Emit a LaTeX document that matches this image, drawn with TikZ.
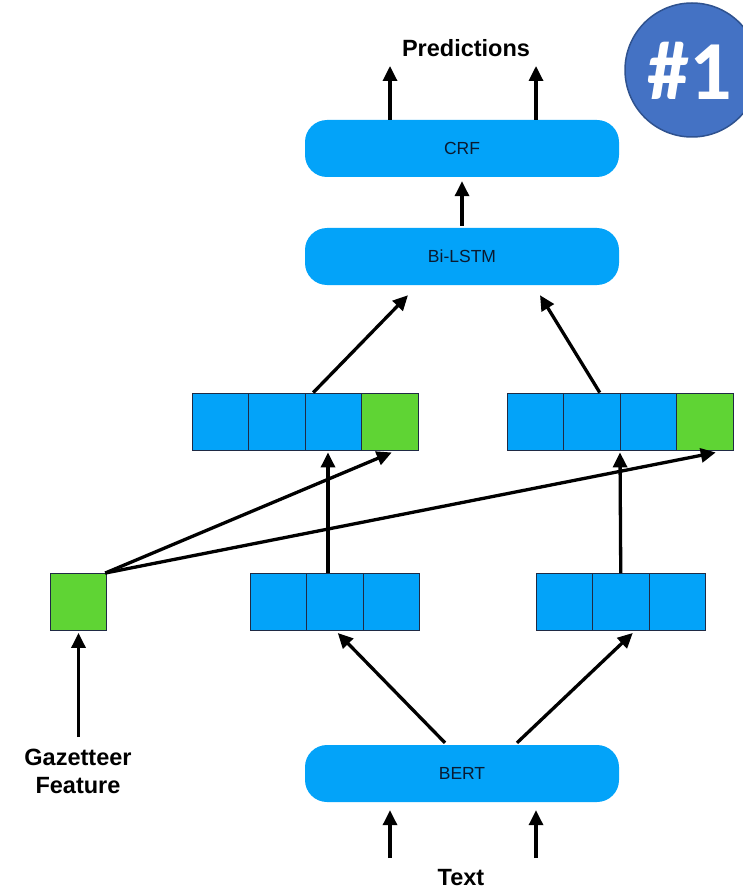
\documentclass[tikz,border=0pt]{standalone}
\usepackage{fontspec}
\setmainfont{Liberation Sans}
\newfontfamily\badgefont{Carlito}
\usetikzlibrary{arrows.meta,calc}
\definecolor{boxblue}{HTML}{03A3F9}
\definecolor{cellgreen}{HTML}{5FD434}
\definecolor{badgeblue}{HTML}{4472C4}
\definecolor{badgeedge}{HTML}{2F528F}
\definecolor{cellline}{HTML}{1F2A44}
\definecolor{labeltext}{HTML}{0A1A30}
\begin{document}
\begin{tikzpicture}[x=1pt,y=-1pt,
  layer/.style={draw=none, fill=boxblue, rounded corners=22pt, minimum width=314pt, minimum height=57pt, inner sep=0pt, font=\fontsize{17.5}{20}\selectfont, text=labeltext},
  cell/.style={draw=cellline, line width=0.9pt, fill=boxblue, minimum width=56.5pt, minimum height=57pt, inner sep=0pt},
  gcell/.style={cell, fill=cellgreen},
  arr/.style={line width=3.3pt, -{Triangle[length=15pt,width=14pt]}},
  lbl/.style={font=\bfseries\fontsize{23.5}{27}\selectfont, inner sep=0pt, anchor=base}]
\useasboundingbox (0,0) rectangle (743,893);
\clip (0,0) rectangle (743,893);

% badge
\node[circle, fill=badgeblue, draw=badgeedge, line width=1.5pt, minimum size=134pt, inner sep=0pt] (badge) at (692,70) {};
\node[text=white, font=\badgefont\bfseries\fontsize{84}{84}\selectfont, inner sep=0pt, anchor=base] (badgetext) at (690,100) {\#1};

% layers
\node[layer] (crf) at (462,148.5) {CRF};
\node[layer] (lstm) at (462,256.5) {Bi-LSTM};
\node[layer] (bert) at (462,773.5) {BERT};

% upper concatenated rows
\node[cell] (ul1) at (220.25,421.5) {};
\node[cell] (ul2) at (276.75,421.5) {};
\node[cell] (ul3) at (333.25,421.5) {};
\node[gcell] (ul4) at (389.75,421.5) {};
\node[cell] (ur1) at (535.25,421.5) {};
\node[cell] (ur2) at (591.75,421.5) {};
\node[cell] (ur3) at (648.25,421.5) {};
\node[gcell] (ur4) at (704.75,421.5) {};

% lower rows
\node[cell] (ll1) at (278.25,602) {};
\node[cell] (ll2) at (334.75,602) {};
\node[cell] (ll3) at (391.25,602) {};
\node[cell] (lr1) at (564.25,602) {};
\node[cell] (lr2) at (620.75,602) {};
\node[cell] (lr3) at (677.25,602) {};

% gazetteer cell
\node[gcell] (gaz) at (78.5,602) {};

% labels
\node[lbl] (pred) at (466,57) {Predictions};
\node[lbl] (gazlbl) at (78,765) {Gazetteer};
\node[lbl] (gazlbl2) at (78,793) {Feature};
\node[lbl] (text) at (461,885) {Text};

% prediction arrows
\coordinate (pa) at (390,66);
\coordinate (pb) at (536,66);
\draw[arr] (pa |- crf.north) -- (pa);
\draw[arr] (pb |- crf.north) -- (pb);

% lstm -> crf
\draw[arr, shorten <=2pt, shorten >=4pt] (lstm.north) -- (crf.south);

% upper rows -> lstm
\draw[arr] ($(ul3.north)+(-20,0)$) -- ($(lstm.south)+(-54,10)$);
\draw[arr] ($(ur2.north)+(8,0)$) -- ($(lstm.south)+(78,10)$);

% lower rows -> upper rows
\draw[arr] ($(ll2.north)+(-6.75,0)$) -- ($(ul3.south)+(-5.25,2)$);
\draw[arr] (lr2.north) -- ($(ur2.south)+(28.25,2)$);

% gazetteer -> green cells
\draw[arr] ($(gaz.north east)+(-2,0)$) -- ($(ul4.south)+(2,2)$);
\draw[arr] ($(gaz.north east)+(-2,0)$) -- ($(ur4.south)+(11,2)$);

% gazetteer feature -> gazetteer cell
\draw[arr] (78.5,737) -- ($(gaz.south)+(0,2)$);

% bert -> lower rows
\draw[arr] ($(bert.north)+(-17,-2)$) -- ($(ll2.south)+(3,2)$);
\draw[arr] ($(bert.north)+(55,-2)$) -- ($(lr2.south)+(12,2)$);

% text -> bert
\coordinate (ta) at (390,858);
\coordinate (tb) at (536,858);
\draw[arr, shorten >=8pt] (ta) -- (ta |- bert.south);
\draw[arr, shorten >=8pt] (tb) -- (tb |- bert.south);
\end{tikzpicture}
\end{document}
